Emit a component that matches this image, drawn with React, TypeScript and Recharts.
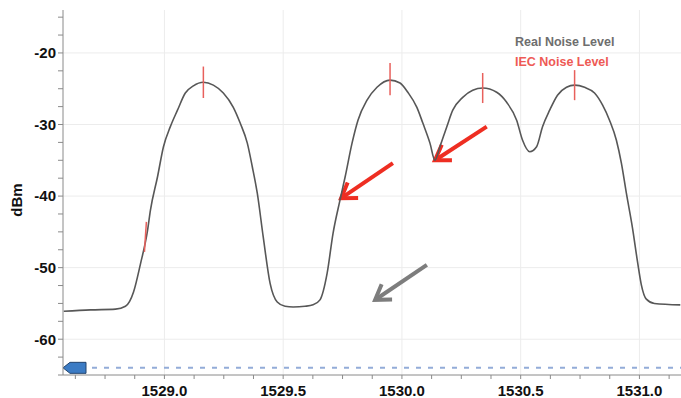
import { CartesianGrid, Legend, Line, LineChart, ReferenceLine, XAxis, YAxis } from "recharts";

const wavelength = [
  1528.576, 1528.689, 1528.794, 1528.836, 1528.87, 1528.899, 1528.929, 1528.941, 1528.971, 1528.996,
  1529.025, 1529.055, 1529.088, 1529.122, 1529.164, 1529.206, 1529.248, 1529.29, 1529.319, 1529.349,
  1529.37, 1529.391, 1529.416, 1529.445, 1529.475, 1529.508, 1529.542, 1529.592, 1529.626, 1529.655,
  1529.685, 1529.71, 1529.739, 1529.761, 1529.79, 1529.815, 1529.853, 1529.895, 1529.95, 1529.992,
  1530.025, 1530.063, 1530.088, 1530.118, 1530.139, 1530.16, 1530.189, 1530.214, 1530.256, 1530.298,
  1530.34, 1530.399, 1530.441, 1530.483, 1530.508, 1530.538, 1530.567, 1530.592, 1530.622, 1530.655,
  1530.693, 1530.727, 1530.769, 1530.811, 1530.845, 1530.874, 1530.903, 1530.924, 1530.945, 1530.971,
  1530.992, 1531.008, 1531.029, 1531.063, 1531.172,
];
const realNoise = [
  -56.1, -55.9, -55.8, -55.4, -53.4, -49.5, -44.8, -42.0, -37.3, -33.1,
  -30.3, -28.0, -25.6, -24.6, -24.1, -24.5, -25.6, -27.6, -29.8, -32.6,
  -35.9, -39.6, -45.7, -52.2, -54.8, -55.4, -55.5, -55.4, -55.2, -54.5,
  -50.8, -45.2, -40.6, -37.3, -32.6, -29.4, -26.6, -24.8, -23.8, -24.2,
  -25.5, -27.6, -29.8, -32.6, -35.0, -33.1, -30.3, -28.0, -26.2, -25.2,
  -24.9, -25.5, -26.9, -29.4, -32.2, -33.8, -33.1, -30.3, -28.0, -25.9,
  -24.8, -24.5, -24.8, -25.6, -27.3, -29.4, -32.2, -35.4, -39.6, -44.5,
  -49.2, -52.4, -54.4, -55.0, -55.2,
];

// IEC noise level markers (short red bars)
const iecTopX = [1528.924, 1529.164, 1529.95, 1530.34, 1530.727];
const iecBottomX = [1528.916, 1529.164, 1529.95, 1530.34, 1530.727];
const iecTop = [-43.6, -21.9, -21.4, -22.8, -22.4];
const iecBottom = [-47.8, -26.3, -25.9, -27.0, -26.6];

// annotation arrows: tail -> tip
const arrowTailX = [1529.962, 1530.357, 1530.105];
const arrowTailY = [-35.4, -30.3, -49.6];
const arrowTipX = [1529.744, 1530.139, 1529.887];
const arrowTipY = [-40.3, -35.0, -54.5];
const arrowColors = ["#ee2e22", "#ee2e22", "#7d7d7d"];

const xTicks = [
  1528.625, 1528.75, 1528.875, 1529.0, 1529.125, 1529.25, 1529.375, 1529.5, 1529.625, 1529.75,
  1529.875, 1530.0, 1530.125, 1530.25, 1530.375, 1530.5, 1530.625, 1530.75, 1530.875, 1531.0, 1531.125,
];
const xLabels = [1529.0, 1529.5, 1530.0, 1530.5, 1531.0];
const yTicks = [
  -65, -62.5, -60, -57.5, -55, -52.5, -50, -47.5, -45, -42.5, -40, -37.5, -35, -32.5, -30, -27.5,
  -25, -22.5, -20, -17.5, -15,
];
const yLabels = [-60, -50, -40, -30, -20];
const sweepLevel = -64;

const data = wavelength.map((w, i) => ({ wavelength: w, real: realNoise[i] }));

const font = '"Liberation Sans", Arial, sans-serif';

const arrowShape = (color: string) => (props: any) => {
  const { x1, y1, x2, y2 } = props;
  const ang = Math.atan2(y1 - y2, x1 - x2);
  const len = 17;
  const spread = 0.58;
  const ax = x2 + len * Math.cos(ang - spread);
  const ay = y2 + len * Math.sin(ang - spread);
  const bx = x2 + len * Math.cos(ang + spread);
  const by = y2 + len * Math.sin(ang + spread);
  return (
    <g>
      <line x1={x1} y1={y1} x2={x2 + 2 * Math.cos(ang)} y2={y2 + 2 * Math.sin(ang)} stroke={color} strokeWidth={4} />
      <polyline points={`${ax},${ay} ${x2},${y2} ${bx},${by}`} fill="none" stroke={color} strokeWidth={4} />
    </g>
  );
};

const sweepShape = (props: any) => {
  const { x1, y1, x2 } = props;
  const pts = `${x1},${y1} ${x1 + 7},${y1 - 5.5} ${x1 + 23},${y1 - 5.5} ${x1 + 23},${y1 + 5.5} ${x1 + 7},${y1 + 5.5}`;
  return (
    <g>
      <line x1={x1 + 29} y1={y1} x2={x2} y2={y1} stroke="#93acd8" strokeWidth={2} strokeDasharray="5 7" />
      <polygon points={pts} fill="#3b7bc4" stroke="#22446e" strokeWidth={1} />
    </g>
  );
};

const isLabel = (v: number, list: number[]) => list.some((l) => Math.abs(l - v) < 1e-6);

const legendContent = () => (
  <div style={{ fontFamily: font, fontSize: 12.5, fontWeight: "bold", lineHeight: "20px" }}>
    <div style={{ color: "#6e6e6e" }}>Real Noise Level</div>
    <div style={{ color: "#ee5a55" }}>IEC Noise Level</div>
  </div>
);

export default function App() {
  return (
    <div style={{ position: "absolute", left: 0, top: 0, width: 681, height: 398, background: "#fff", fontFamily: font }}>
      <LineChart width={681} height={398} data={data} margin={{ top: 10, right: 0, left: 0, bottom: 0 }}>
        <CartesianGrid stroke="#ececec" horizontalValues={yLabels} verticalValues={xLabels} />
        <XAxis
          dataKey="wavelength"
          type="number"
          domain={[1528.573, 1531.175]}
          allowDataOverflow
          ticks={xTicks}
          interval={0}
          height={23}
          stroke="#8a8a8a"
          tickSize={4}
          tickMargin={6}
          tick={{ fontSize: 15, fontWeight: "bold", fill: "#111", fontFamily: font }}
          tickFormatter={(v: number) => (isLabel(v, xLabels) ? v.toFixed(1) : "")}
        />
        <YAxis
          type="number"
          domain={[-65, -14]}
          allowDataOverflow
          ticks={yTicks}
          interval={0}
          width={63}
          stroke="#8a8a8a"
          tickSize={5}
          tick={{ fontSize: 15, fontWeight: "bold", fill: "#111", fontFamily: font }}
          tickFormatter={(v: number) => (isLabel(v, yLabels) ? String(v) : "")}
        />
        <Legend
          layout="horizontal"
          verticalAlign="middle"
          align="center"
          content={legendContent}
          wrapperStyle={{ left: 515, top: 32, width: 120 }}
        />
        <ReferenceLine y={sweepLevel} shape={sweepShape} ifOverflow="extendDomain" />
        {arrowTailX.map((x, i) => (
          <ReferenceLine
            key={`arrow-${i}`}
            segment={[
              { x, y: arrowTailY[i] },
              { x: arrowTipX[i], y: arrowTipY[i] },
            ]}
            shape={arrowShape(arrowColors[i])}
          />
        ))}
        <Line
          dataKey="real"
          type="monotone"
          stroke="#575757"
          strokeWidth={1.6}
          dot={false}
          isAnimationActive={false}
        />
        {iecTopX.map((x, i) => (
          <ReferenceLine
            key={`iec-${i}`}
            segment={[
              { x, y: iecTop[i] },
              { x: iecBottomX[i], y: iecBottom[i] },
            ]}
            stroke="#e8605c"
            strokeWidth={1.5}
          />
        ))}
      </LineChart>
      <div
        style={{
          position: "absolute",
          left: 16,
          top: 200,
          transform: "translate(-50%, -50%) rotate(-90deg)",
          fontSize: 15,
          fontWeight: "bold",
          color: "#111",
          whiteSpace: "nowrap",
        }}
      >
        dBm
      </div>
    </div>
  );
}
